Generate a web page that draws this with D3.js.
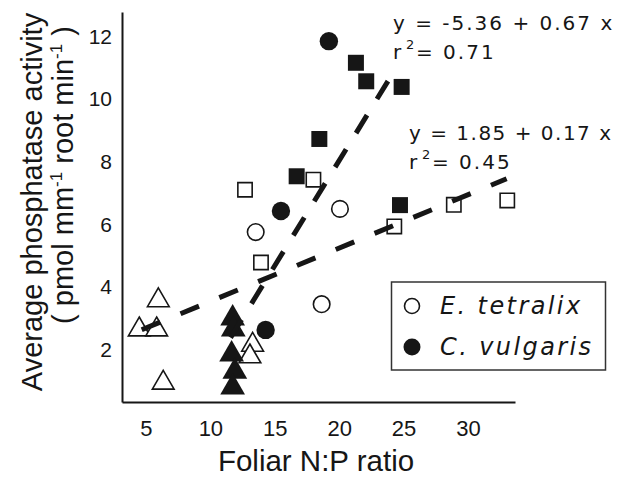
<!DOCTYPE html>
<html>
<head>
<meta charset="utf-8">
<script src="https://cdn.jsdelivr.net/npm/d3@7"></script>
<style>
  body { margin: 0; background: #fff; }
  svg { display: block; }
</style>
</head>
<body>
<div id="chart"></div>
<script>
// tick values
const xTicks = [5, 10, 15, 20, 25, 30];
const yTicks = [2, 4, 6, 8, 10, 12];

// legend
const species = ["E. tetralix", "C. vulgaris"];

// E. tetralix (open symbols), [N:P ratio, activity]
const tetralixCircles = [[13.52, 5.76], [20.06, 6.5], [18.64, 3.46]];
const tetralixSquares = [[12.69, 7.11], [18.0, 7.43], [13.93, 4.79], [24.28, 5.94], [28.9, 6.63], [33.05, 6.77]];
const tetralixTriangles = [[5.96, 3.58], [4.48, 2.65], [5.83, 2.65], [6.34, 0.95], [13.28, 2.16], [13.07, 1.79]];

// C. vulgaris (filled symbols)
const vulgarisCircles = [[19.2, 11.85], [15.48, 6.43], [14.29, 2.64]];
const vulgarisSquares = [[21.3, 11.16], [22.1, 10.57], [24.85, 10.39], [18.46, 8.73], [16.7, 7.54], [24.72, 6.62]];
const vulgarisTriangles = [[11.73, 3.01], [11.78, 2.66], [11.65, 1.86], [11.9, 1.31], [11.73, 0.81]];

// regression lines: y = a + b x, drawn over the x range
const fitIntercepts = [-5.36, 1.85];
const fitSlopes = [0.67, 0.17];
const fitR2 = [0.71, 0.45];
const fitRanges = [[11.57, 23.95], [4.67, 33.0]];

const W = 619, H = 477;
const ink = "#161616";

const svg = d3.select("#chart").append("svg")
    .attr("width", W)
    .attr("height", H)
    .style("background", "#fff");

const x = d3.scaleLinear().domain([3.14, 33.65]).range([122, 515]);
const y = d3.scaleLinear().domain([0.34, 12.78]).range([402, 12]);

// axes (no tick marks)
const xAxis = svg.append("g")
    .attr("transform", "translate(0,402)")
    .call(d3.axisBottom(x).tickValues(xTicks).tickSize(0).tickSizeOuter(0).tickPadding(18));
const yAxis = svg.append("g")
    .attr("transform", "translate(122,0)")
    .call(d3.axisLeft(y).tickValues(yTicks).tickSize(0).tickSizeOuter(0).tickPadding(10));

[xAxis, yAxis].forEach(g => {
    g.select(".domain").attr("stroke", ink).attr("stroke-width", 2);
    g.selectAll("text")
        .attr("fill", ink)
        .style("font-family", "'Liberation Sans', Arial, sans-serif")
        .style("font-size", "22px");
});
yAxis.selectAll("text").style("font-size", "21px");

// axis titles
svg.append("text")
    .attr("x", 316)
    .attr("y", 471)
    .attr("text-anchor", "middle")
    .attr("fill", ink)
    .style("font-family", "'Liberation Sans', Arial, sans-serif")
    .style("font-size", "29.5px")
    .text("Foliar N:P ratio");

svg.append("text")
    .attr("transform", "translate(42,202) rotate(-90)")
    .attr("text-anchor", "middle")
    .attr("fill", ink)
    .style("font-family", "'Liberation Sans', Arial, sans-serif")
    .style("font-size", "29px")
    .text("Average  phosphatase activity");

const unit = svg.append("text")
    .attr("transform", "translate(73,175) rotate(-90)")
    .attr("text-anchor", "middle")
    .attr("fill", ink)
    .style("font-family", "'Liberation Sans', Arial, sans-serif")
    .style("font-size", "29px");
unit.append("tspan").text("( pmol mm");
unit.append("tspan").attr("dy", -11).style("font-size", "17px").text("-1");
unit.append("tspan").attr("dy", 11).text(" root min");
unit.append("tspan").attr("dy", -11).style("font-size", "17px").text("-1");
unit.append("tspan").attr("dy", 11).text(" )");

// markers
function drawSymbols(data, type, size, filled) {
    svg.append("g").selectAll("path")
        .data(data)
        .join("path")
        .attr("transform", d => `translate(${x(d[0])},${y(d[1])})`)
        .attr("d", d3.symbol().type(type).size(size))
        .attr("fill", filled ? ink : "#fff")
        .attr("stroke", ink)
        .attr("stroke-width", filled ? 0 : 1.6);
}

drawSymbols(tetralixTriangles, d3.symbolTriangle, 205, false);
drawSymbols(tetralixSquares, d3.symbolSquare, 205, false);
drawSymbols(tetralixCircles, d3.symbolCircle, 215, false);
drawSymbols(vulgarisTriangles, d3.symbolTriangle, 265, true);
drawSymbols(vulgarisSquares, d3.symbolSquare, 256, true);
drawSymbols(vulgarisCircles, d3.symbolCircle, 266, true);

// regression lines
const line = d3.line().x(d => x(d[0])).y(d => y(d[1]));
fitRanges.forEach((r, i) => {
    const pts = r.map(v => [v, fitIntercepts[i] + fitSlopes[i] * v]);
    svg.append("path")
        .attr("d", line(pts))
        .attr("fill", "none")
        .attr("stroke", ink)
        .attr("stroke-width", 5)
        .attr("stroke-dasharray", i === 0 ? "21,19" : "20,22");
});

// equations
const eqPos = [[393, 30], [409, 140]];
const eqSpacing = [2, 1.5];
fitIntercepts.forEach((a, i) => {
    const [ex, ey] = eqPos[i];
    const b = fitSlopes[i];
    const eq = svg.append("g")
        .attr("fill", ink)
        .style("font-family", "'DejaVu Sans', Verdana, sans-serif");
    eq.append("text")
        .attr("x", ex).attr("y", ey)
        .style("font-size", "20px")
        .style("letter-spacing", eqSpacing[i] + "px")
        .text(`y = ${a.toFixed(2)} + ${b.toFixed(2)} x`);
    const r2 = eq.append("text")
        .attr("y", ey + 29)
        .style("font-size", "20px")
        .style("letter-spacing", "2px");
    r2.append("tspan").attr("x", ex).text("r");
    r2.append("tspan").attr("x", ex + 13).attr("dy", -10).style("font-size", "13px").text("2");
    r2.append("tspan").attr("x", ex + 23).attr("dy", 10).text(`= ${fitR2[i].toFixed(2)}`);
});

// legend
const legend = svg.append("g");
legend.append("rect")
    .attr("x", 391.5).attr("y", 282)
    .attr("width", 214).attr("height", 88)
    .attr("fill", "#fff")
    .attr("stroke", "#333")
    .attr("stroke-width", 1.5);

species.forEach((s, i) => {
    const cy = 306 + i * 41;
    legend.append("circle")
        .attr("cx", 412).attr("cy", cy)
        .attr("r", i === 0 ? 7.5 : 8.5)
        .attr("fill", i === 0 ? "#fff" : ink)
        .attr("stroke", ink)
        .attr("stroke-width", i === 0 ? 1.6 : 0);
    legend.append("text")
        .attr("x", 440).attr("y", cy + 8)
        .attr("fill", ink)
        .style("font-family", "'DejaVu Sans', Verdana, sans-serif")
        .style("font-style", "italic")
        .style("font-size", "24px")
        .style("letter-spacing", "2.4px")
        .text(s);
});
</script>
</body>
</html>
